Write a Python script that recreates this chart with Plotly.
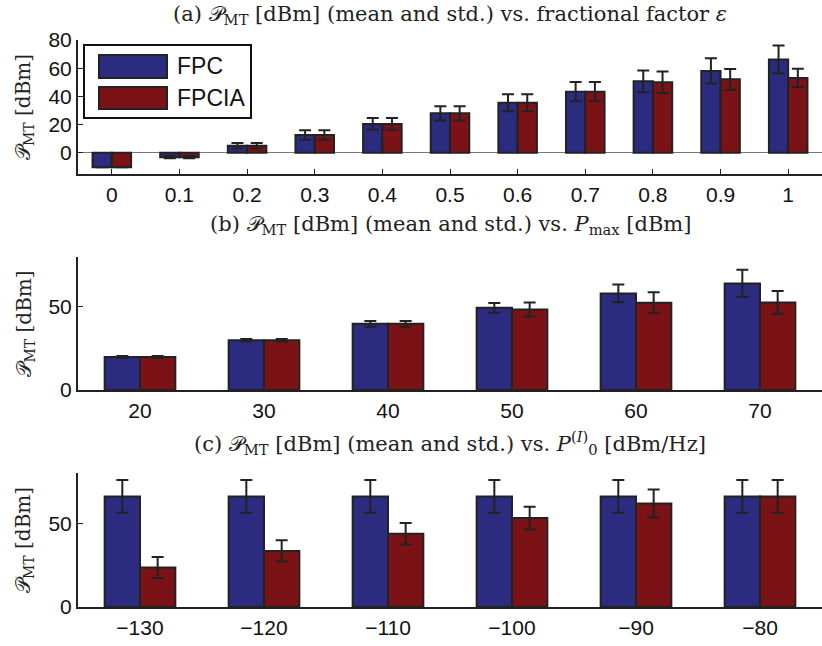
import plotly.graph_objects as go
from plotly.subplots import make_subplots

# ---------------- data ----------------
eps_vals = [0, 0.1, 0.2, 0.3, 0.4, 0.5, 0.6, 0.7, 0.8, 0.9, 1.0]
eps_labels = ["0", "0.1", "0.2", "0.3", "0.4", "0.5", "0.6", "0.7", "0.8", "0.9", "1"]
fpc_a = [-10.2, -3.1, 5.0, 12.6, 20.5, 28.0, 35.5, 43.4, 50.7, 58.1, 66.2]
fpc_a_std = [0.0, 0.8, 2.0, 3.4, 4.2, 5.0, 6.1, 6.8, 7.7, 8.9, 9.9]
fpcia_a = [-10.2, -3.1, 5.0, 12.6, 20.5, 28.0, 35.5, 43.4, 50.0, 52.1, 53.1]
fpcia_a_std = [0.0, 0.8, 2.0, 3.4, 4.2, 5.0, 6.1, 6.8, 7.6, 7.3, 6.5]

pmax_vals = [20, 30, 40, 50, 60, 70]
pmax_labels = ["20", "30", "40", "50", "60", "70"]
fpc_b = [19.9, 29.9, 39.8, 49.4, 58.1, 64.1]
fpc_b_std = [0.5, 0.8, 1.7, 2.9, 5.3, 8.2]
fpcia_b = [19.9, 29.9, 39.8, 48.4, 52.5, 52.7]
fpcia_b_std = [0.5, 0.8, 1.7, 4.2, 6.3, 6.8]

p0_vals = [-130, -120, -110, -100, -90, -80]
p0_labels = ["\u2212130", "\u2212120", "\u2212110", "\u2212100", "\u221290", "\u221280"]
fpc_c = [66.0, 66.0, 66.0, 66.0, 66.0, 66.0]
fpc_c_std = [9.8, 9.8, 9.8, 9.8, 9.8, 9.8]
fpcia_c = [23.6, 33.5, 43.7, 53.1, 61.8, 66.0]
fpcia_c_std = [6.3, 6.4, 6.4, 6.8, 8.3, 9.8]

series_names = ["FPC", "FPCIA"]
colors = ["#2B2B80", "#7B1316"]

# ---------------- layout helpers ----------------
W, H = 822, 646
ML = 78
PW, PH = W - ML, H


def px_x(px):
    return (px - ML) / PW


def px_y(py):
    return 1 - py / PH


fig = make_subplots(rows=3, cols=1)

panels = [
    (eps_vals, eps_labels, fpc_a, fpc_a_std, fpcia_a, fpcia_a_std),
    (pmax_vals, pmax_labels, fpc_b, fpc_b_std, fpcia_b, fpcia_b_std),
    (p0_vals, p0_labels, fpc_c, fpc_c_std, fpcia_c, fpcia_c_std),
]

edge = "#222222"
for r, (xv, xl, y1, e1, y2, e2) in enumerate(panels, start=1):
    for name, yv, ev, col in [(series_names[0], y1, e1, colors[0]),
                              (series_names[1], y2, e2, colors[1])]:
        fig.add_trace(go.Bar(
            x=xv, y=yv, name=name, showlegend=False,
            marker=dict(color=col, line=dict(color=edge, width=2)),
            error_y=dict(type="data", array=ev, visible=True,
                         color=edge, thickness=2, width=6),
        ), row=r, col=1)

tick_font = dict(family="Liberation Sans, Arial, sans-serif", size=21, color="#111")

# pixel geometry of the three axes boxes (top, bottom)
boxes = [(40, 174), (257, 390), (473, 607)]
xranges = [[-0.05, 1.05], [15, 75], [-135, -75]]
yranges = [[-15, 80], [0, 80], [0, 80]]
yticks = [[0, 20, 40, 60, 80], [0, 50], [0, 50]]

for i in range(3):
    sfx = "" if i == 0 else str(i + 1)
    top, bot = boxes[i]
    xv, xl = panels[i][0], panels[i][1]
    fig.layout["yaxis" + sfx].update(
        domain=[px_y(bot), px_y(top)], range=yranges[i], automargin=False,
        tickvals=yticks[i], ticktext=[str(t) for t in yticks[i]],
        ticks="inside", ticklen=5, tickwidth=1, tickcolor=edge,
        showline=True, linecolor=edge, linewidth=2,
        showgrid=False, zeroline=(i == 0), zerolinecolor="#777", zerolinewidth=1,
        tickfont=tick_font, ticklabelstandoff=0,
    )
    fig.layout["xaxis" + sfx].update(
        range=xranges[i], tickvals=xv, ticktext=xl, automargin=False,
        ticks="inside", ticklen=5, tickwidth=1, tickcolor=edge,
        showline=True, linecolor=edge, linewidth=2,
        showgrid=False, zeroline=False,
        tickfont=tick_font, ticklabelstandoff=1,
    )

serif_family = "DejaVu Serif, Liberation Serif, serif"
serif = dict(family=serif_family, size=21, color="#222")
titles = [
    "(a) \U0001D4AB<sub>MT</sub> [dBm] (mean and std.) vs. fractional factor <i>\u03b5</i>",
    "(b) \U0001D4AB<sub>MT</sub> [dBm] (mean and std.) vs. <i>P</i><sub>max</sub> [dBm]",
    "(c) \U0001D4AB<sub>MT</sub> [dBm] (mean and std.) vs. <i>P</i><sup>(<i>I</i>)</sup><sub>0</sub> [dBm/Hz]",
]
title_y = [15, 225, 443]
annotations = []
for i in range(3):
    annotations.append(dict(
        text=titles[i], xref="paper", yref="paper", x=0.5, y=px_y(title_y[i]),
        xanchor="center", yanchor="middle", showarrow=False, font=serif))
    top, bot = boxes[i]
    annotations.append(dict(
        text="\U0001D4AB<sub>MT</sub> [dBm]", xref="paper", yref="paper",
        x=px_x(24), y=px_y((top + bot) / 2), textangle=-90,
        xanchor="center", yanchor="middle", showarrow=False,
        font=dict(family=serif_family, size=20, color="#222")))

# custom legend (box with large patches like the reference)
shapes = [dict(type="rect", xref="paper", yref="paper",
               x0=px_x(84), x1=px_x(251), y0=px_y(118), y1=px_y(45),
               line=dict(color="#111", width=2), fillcolor="white", layer="above")]
leg_rows = [(55, 78), (87, 109)]
for k, (t, b) in enumerate(leg_rows):
    shapes.append(dict(type="rect", xref="paper", yref="paper",
                       x0=px_x(99), x1=px_x(167), y0=px_y(b), y1=px_y(t),
                       line=dict(color=edge, width=2), fillcolor=colors[k], layer="above"))
    annotations.append(dict(
        text=series_names[k], xref="paper", yref="paper",
        x=px_x(175), y=px_y((t + b) / 2), xanchor="left", yanchor="middle",
        showarrow=False, font=dict(family="Liberation Sans, Arial, sans-serif", size=23, color="#111")))

fig.update_layout(
    width=W, height=H,
    margin=dict(l=ML, r=0, t=0, b=0),
    paper_bgcolor="white", plot_bgcolor="white",
    barmode="group", bargap=0.43, bargroupgap=0,
    annotations=annotations, shapes=shapes,
    showlegend=False,
)

# place the figure flush with the window's top-left corner, no toolbar
fig.write_html("out.html",
               config={"displayModeBar": False},
               post_script="document.body.style.margin='0';document.body.style.overflow='hidden';")
